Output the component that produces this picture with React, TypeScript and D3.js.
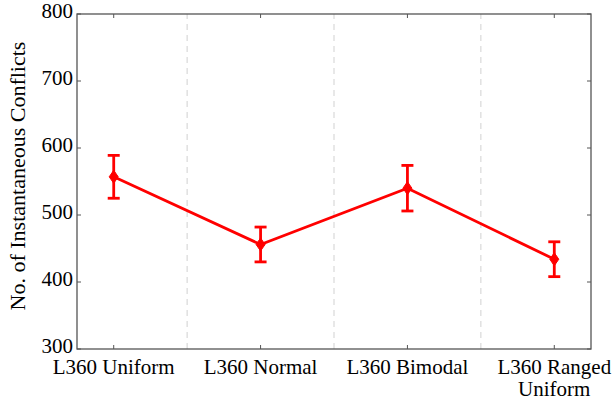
import React from "react";
import * as d3 from "d3";

const categories: string[][] = [
  ["L360 Uniform"],
  ["L360 Normal"],
  ["L360 Bimodal"],
  ["L360 Ranged", "Uniform"],
];
const means: number[] = [557, 456, 540, 434];
const errors: number[] = [32, 26, 34, 26];
const yTicks: number[] = [300, 400, 500, 600, 700, 800];
const yLabel = "No. of Instantaneous Conflicts";

const W = 614;
const H = 405;
const M = { left: 77, right: 23, top: 14, bottom: 56 };
const RED = "#ff0000";
const AXIS = "#555555";
const textStyle: React.CSSProperties = {
  fontFamily: "'Liberation Serif', 'Tinos', 'Times New Roman', 'DejaVu Serif', serif",
  fill: "#000",
};

export default function App() {
  const x = d3
    .scaleLinear()
    .domain([-0.25, categories.length - 0.75])
    .range([M.left, W - M.right]);
  const y = d3.scaleLinear().domain([300, 800]).range([H - M.bottom, M.top]);

  const line = d3
    .line<number>()
    .x((_, i) => x(i))
    .y((d) => y(d));

  const dividers = d3.range(categories.length - 1).map((i) => i + 0.5);
  const diamond = (cx: number, cy: number) =>
    `M${cx},${cy - 6.5}L${cx + 4.5},${cy}L${cx},${cy + 6.5}L${cx - 4.5},${cy}Z`;

  return (
    <svg
      width={W}
      height={H}
      style={{ position: "absolute", left: 0, top: 0, background: "#fff" }}
    >
      {dividers.map((d) => (
        <line
          key={d}
          x1={x(d)}
          x2={x(d)}
          y1={y(300)}
          y2={y(800)}
          stroke="#d9d9d9"
          strokeWidth={1.2}
          strokeDasharray="6,5"
        />
      ))}

      <path d={line(means) ?? ""} fill="none" stroke={RED} strokeWidth={2.8} />
      {means.map((m, i) => {
        const cx = x(i);
        return (
          <g key={i} stroke={RED} strokeWidth={2.8}>
            <line x1={cx} x2={cx} y1={y(m - errors[i])} y2={y(m + errors[i])} />
            <line x1={cx - 6} x2={cx + 6} y1={y(m + errors[i])} y2={y(m + errors[i])} />
            <line x1={cx - 6} x2={cx + 6} y1={y(m - errors[i])} y2={y(m - errors[i])} />
            <path d={diamond(cx, y(m))} fill={RED} strokeWidth={1} />
          </g>
        );
      })}

      <rect
        x={M.left}
        y={M.top}
        width={W - M.left - M.right}
        height={H - M.top - M.bottom}
        fill="none"
        stroke={AXIS}
        strokeWidth={1.3}
      />

      {yTicks.map((t) => (
        <g key={t}>
          <line x1={M.left} x2={M.left + 4} y1={y(t)} y2={y(t)} stroke={AXIS} strokeWidth={1} />
          <line x1={W - M.right} x2={W - M.right - 4} y1={y(t)} y2={y(t)} stroke={AXIS} strokeWidth={1} />
          <text x={M.left - 4} y={y(t) + 4} textAnchor="end" fontSize={21} style={textStyle}>
            {t}
          </text>
        </g>
      ))}

      {categories.map((lines, i) => (
        <g key={i}>
          <line x1={x(i)} x2={x(i)} y1={y(300)} y2={y(300) - 4} stroke={AXIS} strokeWidth={1} />
          <line x1={x(i)} x2={x(i)} y1={y(800)} y2={y(800) + 4} stroke={AXIS} strokeWidth={1} />
          {lines.map((s, j) => (
            <text key={j} x={x(i)} y={374 + j * 22} textAnchor="middle" fontSize={21} style={textStyle}>
              {s}
            </text>
          ))}
        </g>
      ))}

      <text
        transform={`translate(25,176) rotate(-90)`}
        textAnchor="middle"
        fontSize={22}
        style={textStyle}
      >
        {yLabel}
      </text>
    </svg>
  );
}
